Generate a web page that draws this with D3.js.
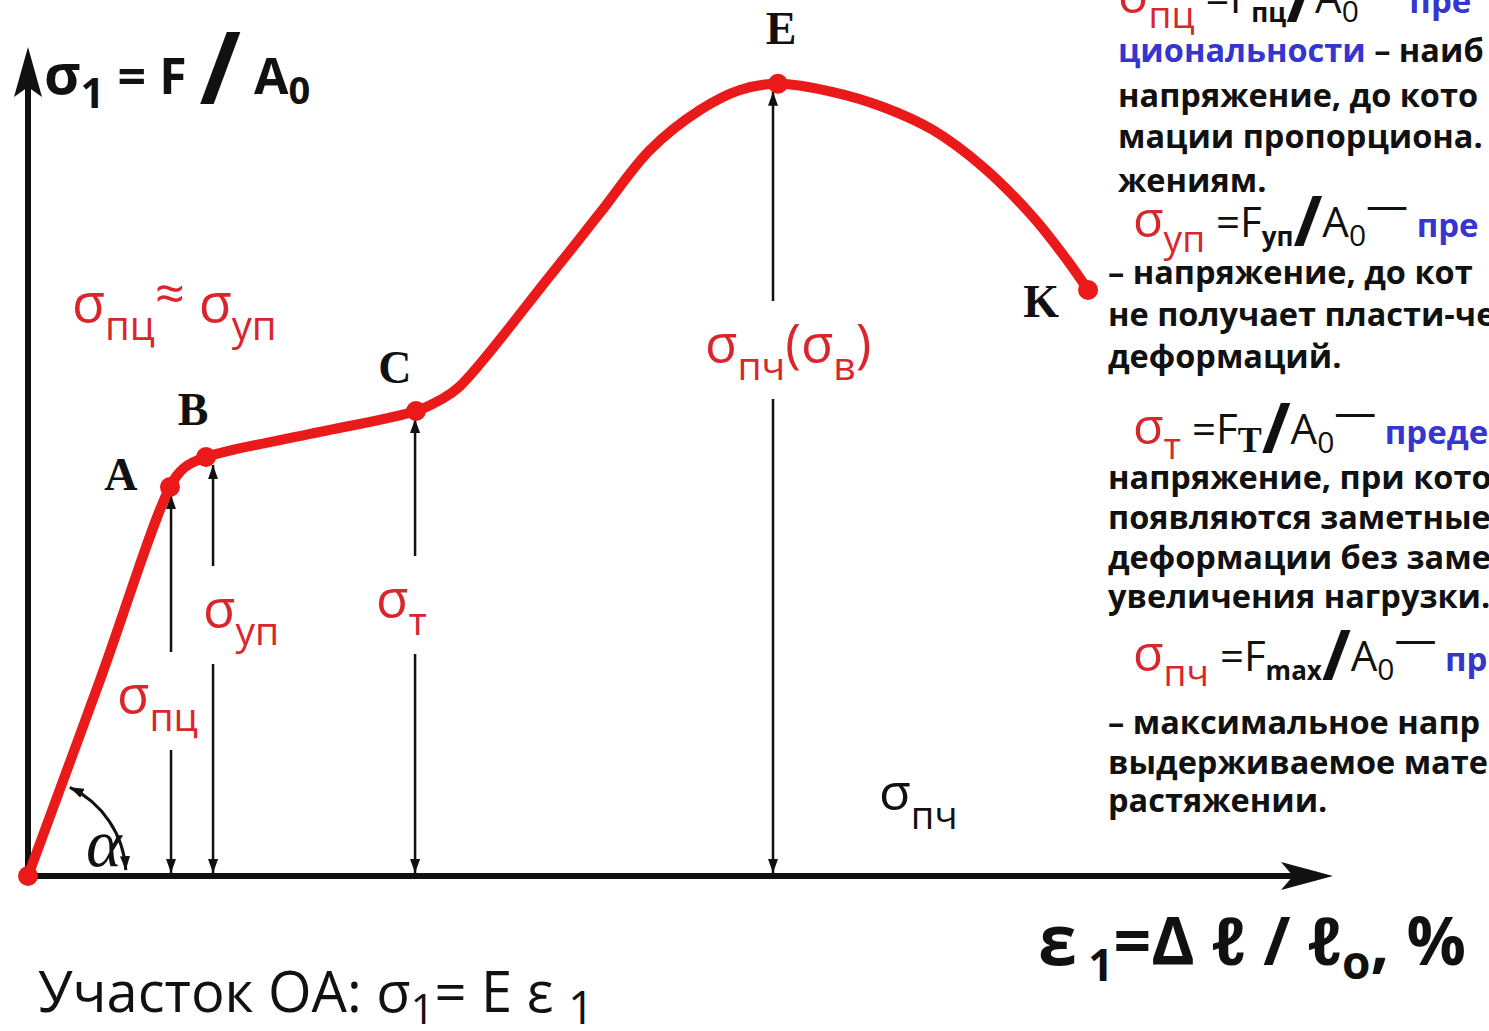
<!DOCTYPE html>
<html>
<head>
<meta charset="utf-8">
<script src="https://cdn.jsdelivr.net/npm/d3@7"></script>
<style>
  body { margin: 0; background: #fff; }
  svg { display: block; }
  text { white-space: pre; }
</style>
</head>
<body>
<div id="container"></div>
<script>
// stress–strain curve (strain, stress in arbitrary units 0..100)
const curveStrain = [0, 5.52, 10.88, 11.95, 13.64, 21.61, 29.73, 31.57, 33.03, 40.0, 43.83, 47.66, 51.49, 54.56, 57.47, 61.69, 65.52, 69.35, 73.18, 77.01, 79.62, 81.23];
const curveStress = [0, 23.87, 47.38, 49.7, 51.03, 53.84, 56.64, 57.98, 59.56, 73.1, 80.76, 88.43, 93.3, 95.74, 96.5, 95.49, 93.67, 90.86, 86.36, 80.27, 75.03, 71.38];

// characteristic points
const pointNames = ['O', 'A', 'B', 'C', 'E', 'K'];
const pointStrain = [0, 10.88, 13.64, 29.73, 57.47, 81.23];
const pointStress = [0, 47.38, 51.03, 56.64, 96.5, 71.38];

// stress levels marked with double arrows
const levelStrain = [10.96, 14.18, 29.66, 57.09];
const levelStress = [47.38, 51.03, 56.64, 96.5];
const levelSubs = ['пц', 'уп', 'т', 'пч'];
const levelSubs2 = ['', '', '', 'в'];

// notes on the right
const noteSubs = ['пц', 'уп', 'т', 'пч'];
const noteForces = ['пц', 'уп', 'T', 'max'];
const noteTerms = ['пре', 'пре', 'преде', 'пр'];
const noteBodies = [
  ['{циональности} – наиб', 'напряжение, до кото', 'мации пропорциона.', 'жениям.'],
  ['– напряжение, до кот', 'не получает пласти-че', 'деформаций.'],
  ['напряжение, при кото', 'появляются заметные', 'деформации без заме', 'увеличения нагрузки.'],
  ['– максимальное напр', 'выдерживаемое мате', 'растяжении.']
];

const W = 1489, H = 1031;
const RED = '#ea1a1a', TXT_RED = '#d8262c', BLUE = '#3535d0', INK = '#111';
const SANS = "'Open Sans', 'Noto Sans', 'DejaVu Sans', sans-serif";
const SERIF = "'Liberation Serif', 'DejaVu Serif', serif";

const svg = d3.select('#container').append('svg')
  .attr('width', W).attr('height', H);
svg.append('rect').attr('width', W).attr('height', H).attr('fill', '#fff');

const x = d3.scaleLinear().domain([0, 100]).range([28, 1333]);
const y = d3.scaleLinear().domain([0, 100]).range([876, 55]);

// text with sub/superscript parts
function rich(g, x0, y0, parts, base) {
  const t = g.append('text').attr('x', x0).attr('y', y0)
    .attr('font-family', base.family || SANS)
    .attr('font-weight', base.weight || 400)
    .attr('fill', base.fill || INK);
  let shift = 0;
  parts.forEach(p => {
    const s = t.append('tspan').text(p.t)
      .attr('font-size', p.size)
      .attr('dy', (p.shift || 0) - shift);
    shift = p.shift || 0;
    if (p.fill) s.attr('fill', p.fill);
    if (p.weight) s.attr('font-weight', p.weight);
    if (p.family) s.attr('font-family', p.family);
    if (p.dx) s.attr('dx', p.dx);
  });
  return t;
}

const defs = svg.append('defs');
defs.append('marker')
  .attr('id', 'tip')
  .attr('viewBox', '0 0 14 10')
  .attr('refX', 14).attr('refY', 5)
  .attr('markerWidth', 14).attr('markerHeight', 10)
  .attr('markerUnits', 'userSpaceOnUse')
  .attr('orient', 'auto-start-reverse')
  .append('path').attr('d', 'M0,0L14,5L0,10Z').attr('fill', INK);

// axes
svg.append('g')
  .attr('transform', `translate(0,${y(0)})`)
  .call(d3.axisBottom(x).tickValues([]).tickSizeOuter(0))
  .call(g => g.select('.domain').attr('stroke', INK).attr('stroke-width', 6).attr('d', `M${x(0)},0H${x(100) - 20}`));
svg.append('g')
  .attr('transform', `translate(${x(0)},0)`)
  .call(d3.axisLeft(y).tickValues([]).tickSizeOuter(0))
  .call(g => g.select('.domain').attr('stroke', INK).attr('stroke-width', 6).attr('d', `M0,${y(0) + 3}V${y(100) + 20}`));

// axis arrowheads
svg.append('path')
  .attr('d', `M${x(100)},${y(0)}L${x(100) - 52},${y(0) - 14}L${x(100) - 40},${y(0)}L${x(100) - 52},${y(0) + 14}Z`)
  .attr('fill', INK);
svg.append('path')
  .attr('d', `M${x(0)},${y(100) - 8}L${x(0) - 14},${y(100) + 42}L${x(0)},${y(100) + 32}L${x(0) + 14},${y(100) + 42}Z`)
  .attr('fill', INK);

// angle alpha
const arcPath = d3.path();
arcPath.arc(x(0), y(0), 98, -1.13, -0.06);
svg.append('path')
  .attr('d', arcPath.toString())
  .attr('fill', 'none').attr('stroke', INK).attr('stroke-width', 3)
  .attr('marker-start', 'url(#tip)').attr('marker-end', 'url(#tip)');
svg.append('text')
  .attr('x', 86).attr('y', 866)
  .attr('font-family', SERIF).attr('font-style', 'italic')
  .attr('font-size', 68).attr('fill', INK)
  .text('α');

// stress level arrows with labels
const levelLayout = [
  { lx: 117, ly: 713 },
  { lx: 203, ly: 627 },
  { lx: 376, ly: 617 },
  { lx: 705, ly: 362 }
];
const levels = svg.append('g');
levelStrain.forEach((s, i) => {
  const lx = x(s);
  levels.append('path')
    .attr('d', d3.line()([[lx, y(0) - 3], [lx, y(levelStress[i]) + 8]]))
    .attr('stroke', INK).attr('stroke-width', 2.5)
    .attr('marker-start', 'url(#tip)').attr('marker-end', 'url(#tip)');
});
levelSubs.forEach((sub, i) => {
  const L = levelLayout[i];
  const parts = [
    { t: 'σ', size: 53 },
    { t: sub, size: 39, shift: 18 }
  ];
  if (levelSubs2[i]) {
    parts.push({ t: '(σ', size: 53 }, { t: levelSubs2[i], size: 39, shift: 18 }, { t: ')', size: 53 });
  }
  const t = rich(levels, L.lx, L.ly, parts, { fill: TXT_RED });
  const b = t.node().getBBox();
  levels.insert('rect', 'text')
    .attr('x', b.x - 4).attr('y', b.y - 4)
    .attr('width', b.width + 8).attr('height', b.height + 12)
    .attr('fill', '#fff');
});

// the curve
const line = d3.line()
  .x(d => x(d[0]))
  .y(d => y(d[1]))
  .curve(d3.curveCatmullRom.alpha(0.5));
svg.append('path')
  .datum(d3.zip(curveStrain, curveStress))
  .attr('d', line)
  .attr('fill', 'none')
  .attr('stroke', RED)
  .attr('stroke-width', 10)
  .attr('stroke-linejoin', 'round')
  .attr('stroke-linecap', 'round');

svg.append('g').selectAll('circle')
  .data(d3.zip(pointStrain, pointStress))
  .join('circle')
  .attr('cx', d => x(d[0]))
  .attr('cy', d => y(d[1]))
  .attr('r', 10)
  .attr('fill', RED);

// point letters
const letterOffset = { A: [-49, 3], B: [-13, -32], C: [-21, -28], E: [3, -40], K: [-47, 27] };
svg.append('g').selectAll('text')
  .data(pointNames.map((n, i) => [n, pointStrain[i], pointStress[i]]).filter(d => letterOffset[d[0]]))
  .join('text')
  .attr('x', d => x(d[1]) + letterOffset[d[0]][0])
  .attr('y', d => y(d[2]) + letterOffset[d[0]][1])
  .attr('text-anchor', 'middle')
  .attr('font-family', SERIF).attr('font-weight', 700).attr('font-size', 46)
  .attr('fill', INK)
  .text(d => d[0]);

// free labels
rich(svg, 72, 322, [
  { t: 'σ', size: 54 }, { t: 'пц', size: 40, shift: 18 },
  { t: '≈', size: 52, shift: -10 },
  { t: ' σ', size: 54 }, { t: 'уп', size: 40, shift: 18 }
], { fill: TXT_RED });

rich(svg, 879, 810, [
  { t: 'σ', size: 52 }, { t: 'пч', size: 38, shift: 19 }
], { fill: INK });

// axis titles
rich(svg, 44, 94, [
  { t: 'σ', size: 56 }, { t: '1', size: 42, shift: 14 },
  { t: ' = F ', size: 50 },
  { t: '/', size: 100, shift: 10 },
  { t: ' A', size: 50 }, { t: '0', size: 38, shift: 10 }
], { weight: 700 });

rich(svg, 1038, 965, [
  { t: 'ε', size: 70 }, { t: ' 1', size: 44, shift: 16 },
  { t: '=Δ ℓ / ℓ', size: 66 }, { t: 'o', size: 46, shift: 14 },
  { t: ', %', size: 66 }
], { weight: 700 });

rich(svg, 38, 1012, [
  { t: 'Участок ОА: σ', size: 56 }, { t: '1', size: 42, shift: 12 },
  { t: '= Ε ε ', size: 56 }, { t: '1', size: 46, shift: 12 }
], { fill: INK });

// notes on the right
const notes = svg.append('g');
const formulaY = [13, 237, 444, 671];
const formulaX = [1118, 1133, 1133, 1133];
const bodyX = [1118, 1108, 1108, 1108];
const bodyY = [[62, 107, 148, 192], [284, 326, 368], [489, 529, 569, 608], [734, 774, 812]];
noteSubs.forEach((sub, i) => {
  const force = noteForces[i];
  const forcePart = force === 'T'
    ? { t: force, size: 36, weight: 700, family: SERIF, shift: 8 }
    : { t: force, size: 26, weight: 700, shift: 9 };
  rich(notes, formulaX[i], formulaY[i], [
    { t: 'σ', size: 50, fill: TXT_RED },
    { t: sub, size: 37, fill: TXT_RED, shift: 15 },
    { t: ' =F', size: 42 },
    forcePart,
    { t: '/', size: 70, weight: 700, shift: 9 },
    { t: 'A', size: 42 },
    { t: '0', size: 30, shift: 9 },
    { t: '—', size: 42, shift: -17 },
    { t: ' ' + noteTerms[i], size: 33, weight: 700, fill: BLUE }
  ], { fill: INK });
  noteBodies[i].forEach((ln, j) => {
    const m = ln.match(/^\{(.*)\}(.*)$/);
    const parts = m
      ? [{ t: m[1], size: 32.5, fill: BLUE }, { t: m[2], size: 32.5 }]
      : [{ t: ln, size: 32.5 }];
    rich(notes, bodyX[i], bodyY[i][j], parts, { weight: 700, fill: INK });
  });
});
</script>
</body>
</html>
